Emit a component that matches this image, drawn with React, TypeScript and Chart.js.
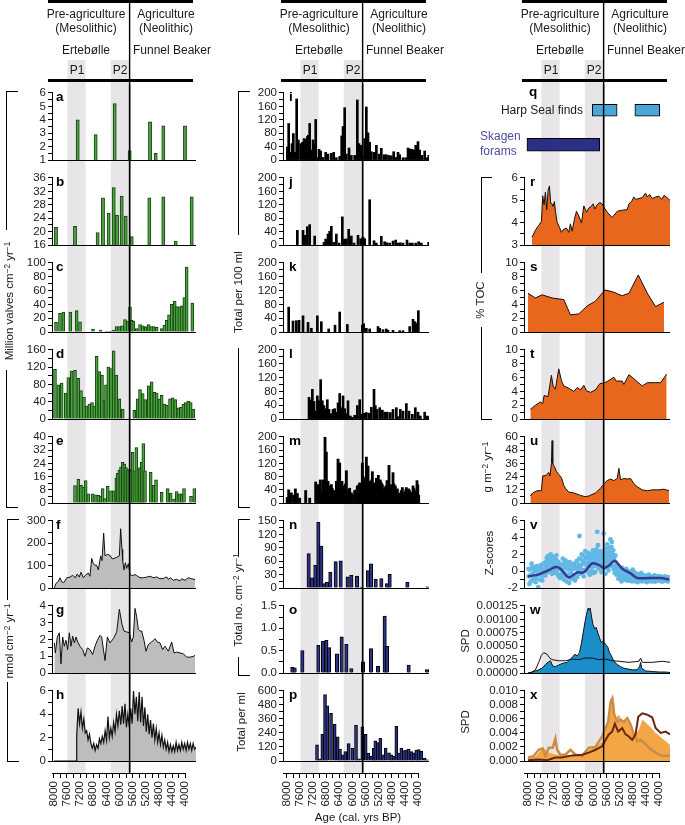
import React, { useEffect, useRef } from 'react';
import { Chart, registerables } from 'chart.js';
Chart.register(...registerables);

const FONT = '"Liberation Sans", Arial, Helvetica, sans-serif';

// ---------------- DATA (ages in cal. yrs BP) ----------------
const BANDS = [[7620, 7110], [6400, 5870]];
const VLINE_AGE = 5870;
const AGE_TICKS = [8000, 7800, 7600, 7400, 7200, 7000, 6800, 6600, 6400, 6200, 6000, 5800, 5600, 5400, 5200, 5000, 4800, 4600, 4400, 4200, 4000];
const AGE_LABELS = ['8000', '7600', '7200', '6800', '6400', '6000', '5600', '5200', '4800', '4400', '4000'];

const A_AGE = [7333, 6826, 6291, 5868, 5295, 5136, 4920, 4310];
const A_VAL = [4.0, 2.9, 5.2, 1.7, 3.85, 1.5, 3.55, 3.55];

const B_AGE = [7944, 7408, 6770, 6620, 6460, 6318, 6225, 6093, 5980, 5811, 5315, 4921, 4572, 4121];
const B_VAL = [21.3, 21.6, 19.7, 30.1, 25.5, 33.1, 24.9, 30.6, 24.6, 18.5, 30.1, 30.4, 17.2, 30.4];

const C_AGE = [7943, 7831, 7737, 7540, 7361, 7267, 6901, 6685, 6516, 6422, 6328, 6234, 6159, 6084, 6000, 5925, 5859, 5812, 5765, 5671, 5577, 5502, 5418, 5333, 5258, 5192, 5108, 4967, 4892, 4826, 4760, 4685, 4601, 4535, 4469, 4403, 4328, 4263, 4103];
const C_VAL = [14, 27, 29, 29, 31, 15, 4, 3, 1, 1, 3, 8, 8, 9, 18, 16, 36, 17, 16, 5, 11, 9, 8, 11, 8, 8, 7, 5, 10, 17, 25, 40, 45, 37, 36, 38, 50, 94, 42];

const D_AGE = [7972, 7878, 7784, 7671, 7596, 7502, 7408, 7314, 7239, 7155, 7080, 7004, 6929, 6864, 6798, 6723, 6648, 6582, 6535, 6469, 6394, 6319, 6244, 6159, 6065, 5737, 5643, 5577, 5502, 5427, 5333, 5249, 5173, 5108, 5033, 4967, 4892, 4826, 4732, 4657, 4582, 4497, 4422, 4356, 4291, 4216, 4150, 4075];
const D_VAL = [115, 79, 83, 60, 96, 111, 113, 94, 66, 51, 30, 35, 38, 30, 145, 110, 101, 44, 79, 120, 117, 158, 102, 47, 23, 20, 47, 68, 59, 45, 77, 86, 62, 60, 47, 55, 35, 32, 47, 49, 45, 26, 27, 35, 38, 41, 38, 23];

const E_AGE = [7408, 7314, 7239, 7173, 7108, 7033, 6911, 6817, 6751, 6685, 6629, 6563, 6488, 6394, 6319, 6244, 6206, 6159, 6112, 6065, 6019, 5972, 5925, 5878, 5840, 5784, 5737, 5680, 5624, 5577, 5530, 5483, 5436, 5277, 5192, 5126, 4967, 4798, 4713, 4619, 4544, 4469, 4394, 4338, 4141, 4047];
const E_VAL = [10.6, 14.3, 10.8, 9.7, 13.6, 5.6, 5.6, 5, 4.7, 4.3, 8.7, 2.8, 10.2, 7.4, 7.4, 15.3, 18, 20, 21.8, 24.7, 23.6, 21.4, 19.9, 20.5, 19.5, 30.7, 19.5, 33.5, 20.5, 21.4, 24.7, 35.9, 19.5, 18.6, 10.8, 14, 6.5, 8.7, 6.1, 2.4, 6.9, 5.6, 5.6, 8.7, 4.1, 8.7];

const F_AGE = [7990, 7943, 7878, 7831, 7784, 7718, 7643, 7549, 7474, 7399, 7343, 7286, 7239, 7173, 7098, 7033, 6986, 6939, 6892, 6845, 6798, 6751, 6685, 6648, 6601, 6563, 6497, 6422, 6357, 6300, 6234, 6159, 6122, 6084, 6065, 6028, 5990, 5953, 5906, 5859, 5793, 5718, 5671, 5577, 5483, 5389, 5295, 5202, 5108, 5014, 4920, 4826, 4779, 4713, 4638, 4544, 4450, 4403, 4310, 4216, 4122, 4028];
const F_VAL = [1, 21, 29, 46, 28, 25, 46, 49, 57, 46, 63, 49, 71, 46, 60, 67, 53, 133, 109, 102, 102, 81, 144, 123, 246, 144, 151, 146, 130, 133, 137, 144, 265, 172, 123, 81, 113, 88, 109, 60, 56, 60, 56, 46, 46, 49, 53, 46, 50, 42, 43, 50, 39, 46, 35, 39, 32, 42, 35, 46, 42, 38];

const G_AGE = [7990, 7962, 7906, 7850, 7803, 7756, 7709, 7662, 7615, 7568, 7521, 7474, 7427, 7380, 7333, 7267, 7192, 7127, 7061, 6986, 6911, 6845, 6779, 6704, 6657, 6563, 6497, 6422, 6328, 6234, 6159, 6084, 6028, 5953, 5878, 5812, 5765, 5718, 5671, 5624, 5577, 5530, 5465, 5408, 5342, 5249, 5155, 5089, 5014, 4939, 4873, 4779, 4685, 4619, 4544, 4450, 4356, 4263, 4169, 4075, 4028];
const G_VAL = [1.8, 1.2, 2.15, 2.4, 0.55, 2.15, 1.6, 1.95, 1.4, 2.4, 1.6, 2.2, 1.8, 2.15, 1.85, 1.6, 1.4, 1, 1.5, 1.4, 1.1, 1.6, 1.95, 2.25, 2.15, 0.75, 2.15, 1.8, 2.05, 2.45, 3.8, 2.9, 2.5, 2.45, 2.4, 1.85, 2.15, 3.85, 3.35, 2.6, 2.5, 2.5, 1.95, 1.3, 1.7, 1.85, 2.05, 1.85, 1.8, 1.4, 1.6, 1.3, 1.85, 1.2, 1.25, 1.2, 1.15, 0.95, 0.95, 1, 1.05];

const H_AGE = [8000, 7372,
  7360, 7320, 7280, 7240, 7200, 7160, 7120, 7080, 7040, 7000,
  6960, 6920, 6880, 6840, 6800, 6760, 6720, 6680, 6640, 6600,
  6560, 6520, 6480, 6440, 6400, 6360, 6320, 6280, 6240, 6200,
  6160, 6120, 6080, 6040, 6000, 5960, 5920, 5880, 5840, 5800,
  5760, 5720, 5680, 5640, 5600, 5560, 5520, 5480, 5440, 5400,
  5360, 5320, 5280, 5240, 5200, 5160, 5120, 5080, 5040, 5000,
  4960, 4920, 4880, 4840, 4800, 4760, 4720, 4680, 4640, 4600,
  4560, 4520, 4480, 4440, 4400, 4360, 4320, 4280, 4240, 4200,
  4160, 4120, 4080, 4040, 4000];
const H_VAL = [0, 0,
  2.2, 4.5, 3.2, 4.2, 2.8, 3.6, 2.4, 2.6, 1.8, 2.3,
  1.5, 1.1, 1.5, 0.9, 1.4, 1.1, 1.9, 1.5, 2.1, 1.6,
  2.6, 1.8, 3.8, 2.0, 2.8, 2.1, 3.3, 2.5, 4.0, 3.0,
  4.3, 3.1, 4.7, 3.2, 4.9, 2.9, 4.0, 3.0, 4.5, 3.2,
  6.0, 4.0, 5.5, 3.4, 5.9, 3.3, 5.5, 3.0, 4.6, 2.5,
  4.0, 2.3, 3.5, 2.0, 3.2, 1.8, 2.8, 1.6, 2.4, 1.4,
  2.2, 1.2, 1.8, 1.0, 1.6, 0.8, 1.4, 0.8, 1.3, 0.8,
  1.6, 0.9, 1.4, 0.9, 1.6, 1.0, 1.5, 0.9, 1.6, 1.0,
  1.5, 0.9, 1.5, 1.0, 1.2];

const I_AGE = [7990, 7953, 7897, 7859, 7822, 7775, 7728, 7681, 7615, 7568, 7521, 7474, 7427, 7399, 7361, 7314, 7267, 7230, 7192, 7145, 7098, 7052, 6986, 6911, 6845, 6751, 6685, 6610, 6516, 6460, 6422, 6375, 6328, 6253, 6188, 6094, 6019, 5972, 5925, 5878, 5812, 5765, 5718, 5671, 5624, 5549, 5483, 5408, 5343, 5267, 5202, 5136, 5061, 4995, 4939, 4873, 4826, 4732, 4657, 4591, 4526, 4469, 4422, 4375, 4310, 4263, 4197, 4122, 4056, 4005];
const I_VAL = [39, 109, 23, 49, 79, 23, 182, 60, 49, 53, 64, 62, 70, 74, 109, 30, 60, 49, 121, 8, 32, 27, 8, 23, 18, 20, 23, 7, 11, 72, 100, 156, 18, 36, 14, 14, 179, 49, 44, 16, 64, 158, 81, 53, 25, 23, 44, 18, 35, 16, 16, 14, 13, 25, 8, 23, 16, 7, 7, 36, 33, 32, 29, 44, 55, 30, 14, 27, 7, 14];

const J_AGE = [7709, 7549, 7493, 7427, 7361, 7221, 6958, 6911, 6845, 6798, 6751, 6685, 6610, 6535, 6441, 6385, 6328, 6263, 6188, 6113, 6000, 5925, 5859, 5812, 5671, 5549, 5483, 5343, 5249, 5183, 5108, 5014, 4939, 4873, 4807, 4732, 4620, 4544, 4469, 4375, 4291, 4216, 4010];
const J_VAL = [44, 44, 29, 55, 61, 27, 8, 18, 33, 41, 56, 8, 33, 6, 84, 18, 18, 47, 27, 6, 29, 19, 24, 19, 135, 13, 6, 26, 10, 7, 6, 12, 15, 6, 7, 6, 15, 6, 6, 6, 10, 6, 8];

const K_AGE = [7953, 7831, 7737, 7662, 7549, 7408, 7314, 7145, 7033, 6826, 6648, 6516, 6300, 5878, 5840, 5765, 5671, 5436, 5389, 5296, 5202, 5155, 5014, 4826, 4732, 4544, 4450, 4394, 4357, 4300];
const K_VAL = [72, 32, 33, 34, 47, 28, 11, 47, 30, 9, 20, 58, 22, 20, 24, 11, 9, 16, 11, 7, 9, 5, 5, 4, 4, 16, 37, 30, 25, 62];

const L_AGE = [7380, 7333, 7286, 7239, 7192, 7145, 7098, 7052, 7005, 6958, 6911, 6864, 6817, 6770, 6704, 6657, 6610, 6563, 6516, 6469, 6422, 6375, 6328, 6282, 6216, 6159, 6094, 6019, 5953, 5897, 5840, 5765, 5690, 5624, 5549, 5512, 5465, 5389, 5314, 5249, 5174, 5089, 5014, 4920, 4873, 4807, 4732, 4638, 4563, 4469, 4385, 4310, 4244, 4122, 4056, 4005];
const L_VAL = [63, 56, 86, 51, 23, 67, 53, 114, 53, 39, 30, 56, 28, 16, 28, 30, 20, 47, 74, 33, 67, 30, 16, 53, 9, 5, 11, 39, 56, 14, 17, 19, 17, 34, 86, 39, 28, 33, 26, 20, 20, 19, 28, 33, 7, 28, 23, 45, 23, 14, 33, 20, 9, 20, 9, 7];

const M_AGE = [7995, 7953, 7878, 7812, 7765, 7709, 7643, 7474, 7361, 7192, 7127, 7061, 6986, 6929, 6892, 6845, 6798, 6751, 6685, 6610, 6563, 6516, 6451, 6394, 6328, 6263, 6188, 6094, 6019, 5953, 5878, 5831, 5765, 5718, 5671, 5596, 5549, 5483, 5427, 5371, 5314, 5249, 5183, 5127, 5080, 5014, 4948, 4892, 4826, 4751, 4685, 4638, 4573, 4516, 4450, 4394, 4338, 4291];
const M_VAL = [17, 40, 31, 24, 43, 29, 15, 38, 15, 64, 56, 70, 70, 200, 154, 66, 47, 56, 38, 66, 133, 121, 66, 52, 98, 43, 31, 38, 52, 61, 121, 75, 139, 112, 66, 95, 61, 75, 84, 70, 56, 47, 68, 114, 56, 92, 52, 43, 29, 47, 33, 47, 43, 33, 52, 38, 68, 24];
// thinner, densely packed bars of panel m (estimated)
const M_DENSE = [
  [7030, 35], [6960, 48], [6910, 60], [6870, 40], [6820, 52], [6775, 30], [6720, 45], [6650, 28], [6590, 55], [6540, 70],
  [6480, 40], [6420, 35], [6360, 58], [6300, 30], [6230, 45], [6150, 25], [6060, 40], [5985, 55], [5915, 35], [5850, 80],
  [5800, 60], [5740, 90], [5690, 48], [5620, 70], [5575, 40], [5515, 55], [5455, 60], [5400, 45], [5340, 62], [5280, 38],
  [5220, 52], [5160, 40], [5100, 48], [5045, 35], [4980, 58], [4920, 40], [4860, 30], [4790, 38], [4720, 25], [4660, 40],
  [4610, 30], [4545, 38], [4480, 28], [4420, 45], [4360, 30], [4310, 55]];

const N_AGE = [7390, 7296, 7202, 7117, 7033, 6948, 6873, 6779, 6629, 6488, 6291, 6188, 6028, 5897, 5718, 5634, 5502, 5343, 5183, 5108, 4610, 4047];
const N_VAL = [77, 23, 51, 147, 94, 10, 13, 36, 59, 61, 25, 29, 27, 2, 39, 54, 20, 21, 10, 31, 13, 3];

const O_AGE = [7850, 7784, 7568, 7117, 6986, 6892, 6817, 6591, 6460, 6328, 6188, 5859, 5634, 5436, 5249, 5183, 4573, 4056];
const O_VAL = [0.13, 0.12, 0.5, 0.62, 0.71, 0.73, 0.57, 0.43, 0.81, 0.64, 0.1, 0.25, 0.55, 0.15, 1.27, 0.6, 0.18, 0.08];

const P_AGE = [7155, 7080, 7005, 6929, 6864, 6760, 6657, 6573, 6507, 6432, 6357, 6263, 6159, 6056, 5972, 5878, 5784, 5709, 5624, 5559, 5512, 5446, 5371, 5296, 5220, 5127, 5061, 4995, 4920, 4845, 4779, 4704, 4638, 4573, 4497, 4432, 4357, 4291, 4216, 4122, 4056];
const P_VAL = [139, 19, 228, 569, 472, 408, 317, 206, 103, 53, 81, 150, 108, 306, 19, 292, 228, 67, 39, 108, 172, 158, 194, 53, 111, 69, 53, 39, 297, 67, 111, 89, 94, 103, 81, 69, 94, 97, 83, 25, 11];

const HARP_SEAL = [[6190, 5490], [4990, 4290]];
const SKAGEN = [8030, 5980];

const R_AGE = [7887, 7793, 7698, 7623, 7586, 7548, 7510, 7473, 7435, 7397, 7360, 7322, 7294, 7256, 7228, 7181, 7115, 7059, 6993, 6917, 6852, 6805, 6757, 6692, 6635, 6569, 6494, 6428, 6353, 6287, 6221, 6165, 6118, 6052, 5976, 5911, 5845, 5769, 5628, 5487, 5346, 5205, 5158, 5083, 5017, 4970, 4875, 4781, 4687, 4640, 4574, 4499, 4405, 4311, 4236, 4170, 4104, 4029, 4000];
const R_VAL = [3.35, 3.66, 3.88, 4.05, 5.2, 4.8, 5.36, 4.58, 5.43, 5.64, 4.87, 4.84, 4.73, 4.94, 4.51, 4.02, 3.8, 3.57, 3.71, 3.76, 3.57, 3.95, 3.62, 4.16, 4.51, 4.3, 3.99, 4.75, 4.47, 4.65, 4.73, 4.84, 4.61, 4.8, 4.9, 4.84, 4.65, 4.47, 4.23, 4.51, 4.56, 4.58, 4.84, 4.94, 5.15, 5.04, 5.08, 5.12, 5.32, 5.15, 5.26, 5.08, 5.15, 5.18, 5.04, 5.22, 5.15, 5.04, 5.0];

const S_AGE = [8000, 7793, 7604, 7322, 6993, 6805, 6569, 6334, 6099, 5835, 5628, 5346, 5158, 4894, 4640, 4405, 4170];
const S_VAL = [5.62, 4.93, 5.39, 4.93, 4.7, 2.49, 2.63, 3.78, 4.47, 6.08, 5.85, 5.25, 5.62, 8.25, 5.62, 3.69, 4.33];

const T_AGE = [7934, 7793, 7651, 7586, 7548, 7435, 7341, 7294, 7228, 7134, 7059, 6993, 6852, 6710, 6616, 6522, 6428, 6353, 6240, 6099, 5976, 5835, 5722, 5581, 5515, 5346, 5299, 5158, 5064, 4923, 4781, 4640, 4405, 4264, 4094];
const T_VAL = [1.4, 2.0, 2.47, 2.23, 3.4, 3.26, 6.33, 4.79, 4.33, 7.26, 5.58, 4.79, 4.47, 4.0, 4.56, 4.23, 4.88, 4.09, 3.86, 4.23, 5.12, 5.26, 5.58, 6.05, 5.49, 5.49, 5.02, 6.42, 6.05, 5.4, 4.79, 5.26, 5.26, 5.26, 6.51];

const U_AGE = [7934, 7868, 7746, 7623, 7586, 7491, 7416, 7379, 7341, 7322, 7303, 7256, 7200, 7134, 7059, 6993, 6946, 6852, 6710, 6522, 6400, 6287, 6099, 5958, 5845, 5769, 5675, 5581, 5487, 5440, 5393, 5299, 5205, 5111, 5017, 4923, 4781, 4640, 4499, 4311, 4170, 4029];
const U_VAL = [6.4, 9.2, 11.2, 11.2, 24.6, 25.1, 27.9, 24.6, 35.7, 56.6, 35.7, 33, 28.7, 25.9, 23.2, 16.2, 13.4, 10, 9.2, 7, 5.9, 6.4, 9.2, 13.4, 18.1, 20.4, 21.8, 20.4, 22.3, 31.5, 21.2, 22.3, 21.8, 22.3, 17.6, 14.8, 12, 11.2, 12, 12, 12.6, 11.2];

const V_PT_AGE = [
  7980, 7950, 7920, 7900, 7870, 7840, 7800, 7770, 7740, 7710,
  7680, 7650, 7620, 7600, 7570, 7540, 7510, 7480, 7460, 7440,
  7420, 7400, 7380, 7360, 7340, 7320, 7300, 7280, 7260, 7240,
  7220, 7200, 7180, 7160, 7140, 7120, 7100, 7080, 7050, 7020,
  6990, 6960, 6930, 6900, 6870, 6840, 6810, 6780, 6750, 6720,
  6690, 6660, 6630, 6600, 6570, 6550, 6530, 6500, 6480, 6450,
  6430, 6400, 6380, 6350, 6330, 6300, 6280, 6260, 6240, 6220,
  6200, 6180, 6160, 6140, 6120, 6100, 6080, 6060, 6050, 6030,
  6010, 5990, 5970, 5950, 5930, 5910, 5890, 5870, 5860, 5840,
  5820, 5800, 5780, 5760, 5740, 5720, 5700, 5680, 5660, 5640,
  5620, 5600, 5580, 5560, 5540, 5520, 5500, 5470, 5440, 5410,
  5380, 5350, 5320, 5290, 5260, 5230, 5200, 5170, 5140, 5110,
  5080, 5050, 5020, 4990, 4960, 4930, 4900, 4870, 4840, 4810,
  4780, 4750, 4720, 4690, 4660, 4630, 4600, 4570, 4540, 4510,
  4480, 4450, 4420, 4390, 4360, 4330, 4300, 4270, 4240, 4210,
  4180, 4150, 4120, 4090, 4060, 4030];
const V_PT_VAL = [
  -0.6, 0.2, -1.2, 0.9, -0.3, -1.0, 0.5, -0.8, 0.1, -1.9,
  -0.4, 0.7, -0.2, -1.1, 0.9, 0.3, -0.5, 1.2, 0.4, 1.8,
  0.8, 1.5, 0.1, 2.0, 1.0, 0.5, 1.6, -0.2, 0.9, 1.3,
  0.2, 1.9, 0.6, -0.4, 1.1, 0.3, -0.8, 0.6, -0.3, 1.5,
  -1.0, 0.4, 1.0, -0.6, 0.2, -1.4, 0.8, -0.2, 0.5, -0.9,
  0.3, -0.5, 1.2, -0.2, 0.8, 4.2, -0.3, 1.4, 0.2, 1.9,
  -0.6, 0.9, 1.6, 0.1, 2.2, 0.7, 1.3, -0.4, 1.8, 0.5,
  2.0, 1.1, -0.2, 1.5, 0.6, 2.3, 0.9, 1.7, 4.7, 3.1,
  0.3, 1.9, 1.2, 2.4, -0.1, 1.6, 0.7, 4.5, 2.1, 1.0,
  -0.3, 2.7, 1.4, 0.4, 2.2, 1.1, 2.8, 3.8, 1.6, 3.5,
  0.6, 2.5, 1.3, -0.2, 1.9, 0.8, 0.2, 0.5, -0.4, 0.1,
  -0.9, 0.4, -0.6, -0.1, -1.0, 0.3, -0.7, -0.2, -1.1, -0.4,
  -0.8, 0.2, -1.0, -0.5, -1.2, -0.3, -0.9, -0.6, -1.1, -0.2,
  -0.8, -1.0, -0.5, -1.2, -0.7, -0.9, -0.4, -1.1, -0.8, -1.0,
  -0.6, -1.2, -0.9, -0.7, -1.1, -0.8, -1.0, -0.6, -1.2, -0.9,
  -0.7, -1.1, -0.8, -1.0, -1.2, -0.8];
// further points of the dense z-score cloud (estimated)
const V_PT_MORE = [
  [7990, 0.3], [7960, -1.5], [7935, -0.5], [7885, 0.4], [7855, -0.9], [7820, 0.0], [7785, -1.3], [7755, 0.6], [7725, -0.4], [7695, 0.2],
  [7665, -1.0], [7635, 0.4], [7585, -0.6], [7555, 0.1], [7525, 1.0], [7490, 0.6], [7470, 1.6], [7450, -0.1], [7430, 1.0], [7410, 0.3],
  [7390, 1.9], [7370, 0.7], [7350, 1.4], [7330, -0.3], [7310, 1.1], [7290, 0.4], [7270, 1.7], [7250, 0.0], [7230, 0.8], [7210, 1.4],
  [7190, -0.2], [7170, 1.0], [7150, 0.5], [7130, -0.6], [7110, 0.8], [7065, 0.2], [7035, -0.7], [7005, 0.9], [6975, -0.2], [6945, 1.3],
  [6915, -1.2], [6885, 0.6], [6855, -0.4], [6825, 1.1], [6795, -0.9], [6765, 0.3], [6735, -0.5], [6705, 0.9], [6675, -1.1], [6645, 0.5],
  [6615, -0.7], [6590, 0.3], [6560, 1.5], [6520, 0.6], [6490, 2.0], [6460, 0.9], [6440, 1.2], [6410, 0.1], [6390, 2.4], [6360, 1.0],
  [6340, 0.5], [6310, 1.7], [6290, -0.2], [6270, 2.1], [6250, 0.9], [6230, 1.4], [6210, 0.1], [6190, 1.6], [6170, 2.5], [6150, 0.8],
  [6130, 1.9], [6110, -0.1], [6090, 1.3], [6070, 2.6], [6040, 0.6], [6020, 1.4], [6000, 2.2], [5980, 0.5], [5960, 1.8], [5940, 0.9],
  [5920, 2.3], [5900, 1.2], [5880, 0.2], [5850, 1.5], [5830, 2.4], [5810, 0.9], [5790, 1.8], [5770, 3.2], [5750, 1.2], [5730, 0.1],
  [5710, 1.9], [5690, 2.3], [5670, 0.7], [5650, 2.9], [5630, 1.4], [5610, 2.0], [5590, 0.3], [5570, 1.6], [5550, 0.6], [5530, 1.1],
  [5510, -0.4], [5490, -0.2], [5455, -0.9], [5425, 0.3], [5395, -0.5], [5365, -1.2], [5335, -0.2], [5305, -0.8], [5275, 0.1], [5245, -0.6],
  [5215, -1.1], [5185, -0.4], [5155, 0.0], [5125, -0.9], [5095, -0.3], [5065, -1.2], [5035, -0.6], [5005, -0.1], [4975, -0.9], [4945, -0.7],
  [4915, -1.3], [4885, -0.4], [4855, -0.9], [4825, -0.6], [4795, -1.2], [4765, -0.5], [4735, -0.8], [4705, -1.0], [4675, -0.6], [4645, -1.3],
  [4615, -0.8], [4585, -0.6], [4555, -1.0], [4525, -1.2], [4495, -0.7], [4465, -0.9], [4435, -0.5], [4405, -1.2], [4375, -0.9], [4345, -0.6],
  [4315, -1.1], [4285, -0.8], [4255, -1.0], [4225, -0.7], [4195, -1.2], [4165, -0.9], [4135, -0.6], [4105, -1.1], [4075, -0.9], [4045, -0.7], [4015, -1.0]];
const V_LINE_AGE = [8000, 7698, 7416, 7228, 7087, 6852, 6616, 6428, 6193, 6005, 5864, 5722, 5553, 5346, 5111, 4923, 4593, 4264, 4029];
const V_LINE_VAL = [-0.62, -0.36, 0.13, 0.5, 0.31, -0.73, -0.13, -0.13, 0.94, 0.76, 0.39, 0.68, 1.24, 0.31, -0.25, -0.8, -0.8, -0.8, -0.99];

const W_AREA_AGE = [8000, 7887, 7793, 7698, 7586, 7510, 7435, 7369, 7303, 7228, 7134, 7040, 6899, 6757, 6682, 6616, 6550, 6494, 6428, 6381, 6334, 6306, 6278, 6249, 6212, 6174, 6118, 6080, 6024, 5986, 5939, 5892, 5845, 5798, 5751, 5704, 5657, 5609, 5553, 5487, 5393, 5299, 5205, 5064, 4923, 4857, 4828, 4800, 4687, 4499, 4311, 4123, 4000];
const W_AREA_VAL = [0, 0.00002, 0.00004, 0.00006, 0.0001, 0.00016, 0.0002, 0.00023, 0.00013, 0.00012, 0.00015, 0.00018, 0.0002, 0.00029, 0.00035, 0.00032, 0.00038, 0.00056, 0.00082, 0.001, 0.00114, 0.00121, 0.00117, 0.00121, 0.00106, 0.00091, 0.00082, 0.00085, 0.00073, 0.00066, 0.00057, 0.00059, 0.00056, 0.00052, 0.00048, 0.00038, 0.00033, 0.00026, 0.0002, 0.00016, 0.00012, 0.00009, 0.00008, 0.00006, 0.00006, 0.00012, 0.0002, 0.00009, 0.00004, 0.00003, 0.00002, 0.00002, 0.00001];
const W_LINE_AGE = [8000, 7906, 7793, 7698, 7623, 7557, 7463, 7388, 7322, 7134, 6946, 6757, 6569, 6381, 6193, 6005, 5816, 5628, 5440, 5158, 4875, 4828, 4781, 4499, 4217, 4000];
const W_LINE_VAL = [0, 0.00001, 0.00006, 0.0002, 0.00033, 0.00038, 0.00035, 0.00028, 0.00025, 0.00023, 0.00023, 0.00026, 0.00025, 0.00028, 0.00028, 0.00025, 0.00026, 0.00023, 0.00022, 0.0002, 0.00022, 0.00028, 0.0002, 0.0002, 0.00022, 0.0002];

const X_AREA_AGE = [8000, 7793, 7651, 7557, 7416, 7228, 6946, 6757, 6475, 6287, 6099, 5911, 5816, 5722, 5647, 5609, 5572, 5534, 5440, 5346, 5252, 5158, 5064, 4970, 4875, 4781, 4687, 4546, 4405, 4217, 4000];
const X_AREA_VAL = [0.0005, 0.0006, 0.0015, 0.0018, 0.0012, 0.0009, 0.0009, 0.0008, 0.0007, 0.0016, 0.0019, 0.0028, 0.0042, 0.0066, 0.008, 0.0094, 0.0084, 0.0061, 0.0066, 0.0056, 0.0059, 0.0054, 0.0042, 0.0038, 0.0045, 0.0059, 0.0055, 0.0048, 0.004, 0.0032, 0.0023];
const X_LIGHT_AGE = [8000, 7840, 7698, 7586, 7510, 7416, 7303, 7228, 7181, 7087, 6946, 6805, 6663, 6475, 6287, 6099, 5911, 5816, 5741, 5675, 5628, 5572, 5487, 5393, 5299, 5205, 5111, 5017, 4923, 4828, 4734, 4593, 4405, 4217, 4000];
const X_LIGHT_VAL = [0.0005, 0.0007, 0.0016, 0.0018, 0.0007, 0.0019, 0.0019, 0.0032, 0.0016, 0.0009, 0.0009, 0.0016, 0.0009, 0.0007, 0.0019, 0.002, 0.0035, 0.0047, 0.0056, 0.0084, 0.0089, 0.0066, 0.0056, 0.0059, 0.0056, 0.0061, 0.0052, 0.0038, 0.0028, 0.003, 0.0026, 0.0019, 0.0012, 0.0007, 0.0008];
const X_DARK_AGE = [8000, 7698, 7463, 7228, 7040, 6757, 6475, 6287, 6099, 5911, 5816, 5722, 5628, 5553, 5459, 5346, 5252, 5158, 5064, 4970, 4894, 4781, 4640, 4499, 4405, 4264, 4123, 4000];
const X_DARK_VAL = [0.0001, 0.0002, 0.0001, 0.0005, 0.0005, 0.0008, 0.0009, 0.0012, 0.0016, 0.0021, 0.003, 0.0038, 0.0042, 0.0053, 0.0042, 0.0047, 0.0038, 0.0035, 0.003, 0.0038, 0.0063, 0.0068, 0.0066, 0.0062, 0.0047, 0.004, 0.0042, 0.0038];

// ---------------- LAYOUT ----------------
const AXIS_W = 50;
const RIGHT_PAD = 6;
const COLS = [
  { left: 2, chartW: 144, xMax: 8056, pl: 54 },
  { left: 233, chartW: 146, xMax: 8113, pl: 287 },
  { left: 474, chartW: 146, xMax: 8113, pl: 528 },
];
const ROW_TOP = [91, 176, 261, 348, 435, 519, 604, 689];
const CANVAS_TOP = [84, 169, 254, 341, 428, 512, 597, 682, 772];
const PLOT_H = 72;
const AXIS_BOTTOM = 773;

const GREEN = '#47a53c';
const GREEN_EDGE = '#183f13';
const NAVY = '#2d3488';
const ORANGE = '#e8671c';
const GREYFILL = '#bdbdbd';
const BAND = '#e7e5e7';

const decorPlugin = {
  id: 'decor',
  beforeDraw(chart: any, _a: any, o: any) {
    if (!o || !o.bands) return;
    const x = chart.scales.x;
    const ctx = chart.ctx;
    ctx.save();
    ctx.fillStyle = BAND;
    BANDS.forEach(([a, b]) => {
      const p1 = x.getPixelForValue(a);
      const p2 = x.getPixelForValue(b);
      ctx.fillRect(Math.min(p1, p2), o.bandTop, Math.abs(p2 - p1), o.bandBottom - o.bandTop);
    });
    ctx.restore();
  },
  afterDatasetsDraw(chart: any, _a: any, o: any) {
    if (!o) return;
    const ctx = chart.ctx;
    const { left, right, bottom } = chart.chartArea;
    ctx.save();
    ctx.strokeStyle = '#000';
    if (o.baseline) {
      ctx.lineWidth = 1;
      ctx.beginPath();
      ctx.moveTo(left, Math.round(bottom) + 0.5);
      ctx.lineTo(right, Math.round(bottom) + 0.5);
      ctx.stroke();
    }
    if (o.vline) {
      const px = chart.scales.x.getPixelForValue(VLINE_AGE);
      ctx.lineWidth = 1.4;
      ctx.beginPath();
      ctx.moveTo(px, 0);
      ctx.lineTo(px, chart.height);
      ctx.stroke();
    }
    ctx.restore();
  },
};
Chart.register(decorPlugin as any);

const pts = (a: number[], v: number[]) => a.map((x, i) => ({ x, y: v[i] }));
const pairPts = (p: number[][]) => p.map(([x, y]) => ({ x, y }));

const bars = (data: any[], fill: string, edge: string, thick: number, bw = 1) => ({
  type: 'bar', data, backgroundColor: fill, borderColor: edge, borderWidth: bw,
  barThickness: thick, grouped: false, borderSkipped: 'start',
});
const area = (a: number[], v: number[], fill: string, line: string, lw: number, fillTo: any = 'origin') => ({
  type: 'line', data: pts(a, v), backgroundColor: fill, borderColor: line, borderWidth: lw,
  fill: fillTo, pointRadius: 0, tension: 0,
});
const line = (a: number[], v: number[], color: string, lw: number) => ({
  type: 'line', data: pts(a, v), borderColor: color, borderWidth: lw, fill: false,
  pointRadius: 0, tension: 0, backgroundColor: 'transparent',
});

type YSpec = { min: number; max: number; minor: number; major: number; dec: number };

function xScale(col: number, display = false) {
  return { type: 'linear', min: 4000, max: COLS[col].xMax, reverse: true, display, offset: false };
}

function panelConfig(col: number, row: number, type: string, datasets: any[], y: YSpec) {
  const h = CANVAS_TOP[row + 1] - CANVAS_TOP[row];
  const n = Math.round((y.max - y.min) / y.minor);
  const tickVals: number[] = [];
  for (let i = 0; i <= n; i++) tickVals.push(+(y.min + i * y.minor).toFixed(10));
  const isMajor = (v: number) => Math.abs(v / y.major - Math.round(v / y.major)) < 1e-6;
  return {
    type,
    data: { datasets },
    options: {
      animation: false, responsive: false, events: [],
      layout: { autoPadding: false, padding: { top: ROW_TOP[row] - CANVAS_TOP[row], bottom: h - (ROW_TOP[row] - CANVAS_TOP[row]) - PLOT_H, left: 0, right: RIGHT_PAD } },
      plugins: { legend: { display: false }, tooltip: { enabled: false }, decor: { vline: true, baseline: true } },
      scales: {
        x: xScale(col),
        y: {
          type: 'linear', min: y.min, max: y.max,
          afterFit: (s: any) => { s.width = AXIS_W; },
          afterBuildTicks: (s: any) => { s.ticks = tickVals.map((v) => ({ value: v })); },
          ticks: {
            autoSkip: false, padding: 2, color: '#222', font: { family: FONT, size: 11.5 },
            callback: (v: any) => (isMajor(+v) ? (+v).toFixed(y.dec) : ''),
          },
          grid: { drawOnChartArea: false, drawTicks: true, tickLength: 4, color: '#000', lineWidth: 1 },
          border: { display: true, color: '#000', width: 1 },
        },
      },
    },
  };
}

function bgConfig(col: number) {
  return {
    type: 'line',
    data: { datasets: [] },
    options: {
      animation: false, responsive: false, events: [],
      layout: { autoPadding: false, padding: { top: 0, bottom: 0, left: AXIS_W, right: RIGHT_PAD } },
      plugins: { legend: { display: false }, tooltip: { enabled: false }, decor: { bands: true, bandTop: 60, bandBottom: AXIS_BOTTOM, vline: true } },
      scales: { x: xScale(col), y: { display: false, min: 0, max: 1 } },
    },
  };
}

function axisConfig(col: number) {
  return {
    type: 'line',
    data: { datasets: [] },
    options: {
      animation: false, responsive: false, events: [],
      layout: { autoPadding: false, padding: { top: 0, bottom: 0, left: AXIS_W, right: RIGHT_PAD } },
      plugins: { legend: { display: false }, tooltip: { enabled: false } },
      scales: {
        x: {
          ...xScale(col, true), position: 'bottom',
          afterFit: (s: any) => { s.height = 52; },
          afterBuildTicks: (s: any) => { s.ticks = AGE_TICKS.map((v) => ({ value: v })); },
          ticks: {
            autoSkip: false, minRotation: 90, maxRotation: 90, padding: 3, color: '#222',
            font: { family: FONT, size: 11.5 },
            callback: (v: any) => (AGE_LABELS.includes(String(v)) ? String(v) : ''),
          },
          grid: { drawOnChartArea: false, drawTicks: true, tickLength: 5, color: '#000' },
          border: { display: true, color: '#000', width: 1 },
        },
        y: { display: false, min: 0, max: 1 },
      },
    },
  };
}

function qConfig() {
  const col = 2;
  return {
    type: 'bar',
    data: {
      labels: ['Harp Seal finds', 'Skagen forams'],
      datasets: [
        { data: [HARP_SEAL[0], null], backgroundColor: '#4aa5d9', borderColor: '#000', borderWidth: 1, borderSkipped: false, barThickness: 12, grouped: false },
        { data: [HARP_SEAL[1], null], backgroundColor: '#4aa5d9', borderColor: '#000', borderWidth: 1, borderSkipped: false, barThickness: 12, grouped: false },
        { data: [null, SKAGEN], backgroundColor: '#2c2f86', borderColor: '#000', borderWidth: 1, borderSkipped: false, barThickness: 13, grouped: false },
      ],
    },
    options: {
      indexAxis: 'y', animation: false, responsive: false, events: [],
      layout: { autoPadding: false, padding: { top: 9, bottom: 7, left: AXIS_W, right: RIGHT_PAD } },
      plugins: { legend: { display: false }, tooltip: { enabled: false }, decor: { vline: true } },
      scales: { x: xScale(col), y: { type: 'category', display: false, offset: true } },
    },
  };
}

// ---------------- PANELS ----------------
type PanelDef = { col: number; row: number; make: () => any };

const PANELS: PanelDef[] = [
  { col: 0, row: 0, make: () => panelConfig(0, 0, 'bar', [bars(pts(A_AGE, A_VAL), GREEN, GREEN_EDGE, 3.2)], { min: 1, max: 6, minor: 0.5, major: 1, dec: 0 }) },
  { col: 0, row: 1, make: () => panelConfig(0, 1, 'bar', [bars(pts(B_AGE, B_VAL), GREEN, GREEN_EDGE, 3.2)], { min: 16, max: 36, minor: 2, major: 4, dec: 0 }) },
  { col: 0, row: 2, make: () => panelConfig(0, 2, 'bar', [bars(pts(C_AGE, C_VAL), GREEN, GREEN_EDGE, 3)], { min: 0, max: 100, minor: 10, major: 20, dec: 0 }) },
  { col: 0, row: 3, make: () => panelConfig(0, 3, 'bar', [bars(pts(D_AGE, D_VAL), GREEN, GREEN_EDGE, 3)], { min: 0, max: 160, minor: 20, major: 40, dec: 0 }) },
  { col: 0, row: 4, make: () => panelConfig(0, 4, 'bar', [bars(pts(E_AGE, E_VAL), GREEN, GREEN_EDGE, 3)], { min: 0, max: 40, minor: 4, major: 8, dec: 0 }) },
  { col: 0, row: 5, make: () => panelConfig(0, 5, 'line', [area(F_AGE, F_VAL, GREYFILL, '#111', 1)], { min: 0, max: 300, minor: 50, major: 100, dec: 0 }) },
  { col: 0, row: 6, make: () => panelConfig(0, 6, 'line', [area(G_AGE, G_VAL, GREYFILL, '#111', 1)], { min: 0, max: 4, minor: 0.5, major: 1, dec: 0 }) },
  { col: 0, row: 7, make: () => panelConfig(0, 7, 'line', [area(H_AGE, H_VAL, GREYFILL, '#111', 1.2)], { min: 0, max: 6, minor: 1, major: 2, dec: 0 }) },

  { col: 1, row: 0, make: () => panelConfig(1, 0, 'bar', [bars(pts(I_AGE, I_VAL), '#000', '#000', 2, 0)], { min: 0, max: 200, minor: 20, major: 40, dec: 0 }) },
  { col: 1, row: 1, make: () => panelConfig(1, 1, 'bar', [bars(pts(J_AGE, J_VAL), '#000', '#000', 2, 0)], { min: 0, max: 200, minor: 20, major: 40, dec: 0 }) },
  { col: 1, row: 2, make: () => panelConfig(1, 2, 'bar', [bars(pts(K_AGE, K_VAL), '#000', '#000', 2, 0)], { min: 0, max: 200, minor: 20, major: 40, dec: 0 }) },
  { col: 1, row: 3, make: () => panelConfig(1, 3, 'bar', [bars(pts(L_AGE, L_VAL), '#000', '#000', 2, 0)], { min: 0, max: 200, minor: 20, major: 40, dec: 0 }) },
  {
    col: 1, row: 4, make: () => panelConfig(1, 4, 'bar', [
      bars(pts(M_AGE, M_VAL), '#000', '#000', 2.2, 0),
      bars(pairPts(M_DENSE), '#000', '#000', 1.8, 0),
    ], { min: 0, max: 200, minor: 20, major: 40, dec: 0 }),
  },
  { col: 1, row: 5, make: () => panelConfig(1, 5, 'bar', [bars(pts(N_AGE, N_VAL), NAVY, '#000', 3.4)], { min: 0, max: 150, minor: 15, major: 30, dec: 0 }) },
  { col: 1, row: 6, make: () => panelConfig(1, 6, 'bar', [bars(pts(O_AGE, O_VAL), NAVY, '#000', 3.4)], { min: 0, max: 1.5, minor: 0.25, major: 0.5, dec: 1 }) },
  { col: 1, row: 7, make: () => panelConfig(1, 7, 'bar', [bars(pts(P_AGE, P_VAL), NAVY, '#000', 3)], { min: 0, max: 600, minor: 60, major: 120, dec: 0 }) },

  { col: 2, row: 1, make: () => panelConfig(2, 1, 'line', [area(R_AGE, R_VAL, ORANGE, '#111', 1, 'start')], { min: 3, max: 6, minor: 0.5, major: 1, dec: 0 }) },
  { col: 2, row: 2, make: () => panelConfig(2, 2, 'line', [area(S_AGE, S_VAL, ORANGE, '#111', 1)], { min: 0, max: 10, minor: 1, major: 2, dec: 0 }) },
  { col: 2, row: 3, make: () => panelConfig(2, 3, 'line', [area(T_AGE, T_VAL, ORANGE, '#111', 1)], { min: 0, max: 10, minor: 1, major: 2, dec: 0 }) },
  { col: 2, row: 4, make: () => panelConfig(2, 4, 'line', [area(U_AGE, U_VAL, ORANGE, '#111', 1)], { min: 0, max: 60, minor: 6, major: 12, dec: 0 }) },
  {
    col: 2, row: 5, make: () => panelConfig(2, 5, 'scatter', [
      { type: 'scatter', data: pts(V_LINE_AGE, V_LINE_VAL), showLine: true, borderColor: '#3b3891', borderWidth: 2.5, pointRadius: 0, tension: 0.3 },
      { type: 'scatter', data: pts(V_PT_AGE, V_PT_VAL), backgroundColor: '#62b8e4', borderWidth: 0, pointRadius: 2.4 },
      { type: 'scatter', data: pairPts(V_PT_MORE), backgroundColor: '#62b8e4', borderWidth: 0, pointRadius: 2.4 },
    ], { min: -2, max: 6, minor: 1, major: 2, dec: 0 }),
  },
  {
    col: 2, row: 6, make: () => panelConfig(2, 6, 'line', [
      line(W_LINE_AGE, W_LINE_VAL, '#111', 1),
      area(W_AREA_AGE, W_AREA_VAL, '#1b8ec9', '#111', 1),
    ], { min: 0, max: 0.00125, minor: 0.000125, major: 0.00025, dec: 5 }),
  },
  {
    col: 2, row: 7, make: () => panelConfig(2, 7, 'line', [
      line(X_DARK_AGE, X_DARK_VAL, '#6b2510', 2),
      line(X_LIGHT_AGE, X_LIGHT_VAL, '#c98e46', 2.5),
      area(X_AREA_AGE, X_AREA_VAL, '#f4a646', 'transparent', 0),
    ], { min: 0, max: 0.01, minor: 0.001, major: 0.002, dec: 3 }),
  },
];

const LETTERS = [
  ['a', 'b', 'c', 'd', 'e', 'f', 'g', 'h'],
  ['i', 'j', 'k', 'l', 'm', 'n', 'o', 'p'],
  ['', 'r', 's', 't', 'u', 'v', 'w', 'x'],
];

// ---------------- COMPONENTS ----------------
function ChartBox({ left, top, width, height, make }: { left: number; top: number; width: number; height: number; make: () => any }) {
  const ref = useRef<HTMLCanvasElement>(null);
  useEffect(() => {
    const c = new Chart(ref.current as HTMLCanvasElement, make());
    return () => c.destroy();
  }, []);
  return <canvas ref={ref} width={width} height={height} style={{ position: 'absolute', left, top, width, height }} />;
}

function Txt({ x, y, children, size = 12, color = '#1a1a1a', bold = false, rot = false, align = 'center' }: any) {
  const tx = align === 'center' ? '-50%' : align === 'right' ? '-100%' : '0';
  return (
    <div style={{
      position: 'absolute', left: x, top: y, whiteSpace: 'nowrap', fontFamily: FONT, fontSize: size,
      color, fontWeight: bold ? 'bold' : 'normal', lineHeight: 1,
      transform: `translate(${tx},-50%)${rot ? ' rotate(-90deg)' : ''}`,
    }}>{children}</div>
  );
}

const Sup = ({ children }: any) => <sup style={{ fontSize: '0.72em', lineHeight: 0, verticalAlign: '0.45em' }}>{children}</sup>;

function Ln({ x, y, w, h }: { x: number; y: number; w: number; h: number }) {
  return <div style={{ position: 'absolute', left: x, top: y, width: w, height: h, background: '#000' }} />;
}

function Bracket({ x, top, bottom, gapTop, gapBottom, tick = 12 }: any) {
  return (
    <>
      <Ln x={x} y={top} w={tick} h={1} />
      <Ln x={x} y={top} w={1} h={gapTop - top} />
      <Ln x={x} y={gapBottom} w={1} h={bottom - gapBottom} />
      <Ln x={x} y={bottom} w={tick} h={1} />
    </>
  );
}

export default function App() {
  const canvasW = (c: number) => AXIS_W + COLS[c].chartW + RIGHT_PAD;
  return (
    <div style={{ position: 'absolute', left: 0, top: 0, width: 685, height: 825, background: '#fff', overflow: 'hidden', fontFamily: FONT }}>
      {COLS.map((c, ci) => (
        <ChartBox key={'bg' + ci} left={c.left} top={0} width={canvasW(ci)} height={AXIS_BOTTOM} make={() => bgConfig(ci)} />
      ))}
      {PANELS.map((p) => (
        <ChartBox key={'p' + p.col + p.row} left={COLS[p.col].left} top={CANVAS_TOP[p.row]} width={canvasW(p.col)}
          height={CANVAS_TOP[p.row + 1] - CANVAS_TOP[p.row]} make={p.make} />
      ))}
      <ChartBox left={COLS[2].left} top={CANVAS_TOP[0]} width={canvasW(2)} height={CANVAS_TOP[1] - CANVAS_TOP[0]} make={qConfig} />
      {COLS.map((c, ci) => (
        <ChartBox key={'ax' + ci} left={c.left} top={AXIS_BOTTOM - 1} width={canvasW(ci)} height={825 - AXIS_BOTTOM + 1} make={() => axisConfig(ci)} />
      ))}

      {/* header */}
      {COLS.map((c, ci) => (
        <React.Fragment key={'h' + ci}>
          <Ln x={c.pl - 6} y={0} w={145} h={3} />
          <Ln x={c.pl - 6} y={79} w={145} h={3} />
          <Txt x={c.pl + 32} y={14}>Pre-agriculture</Txt>
          <Txt x={c.pl + 32} y={28}>(Mesolithic)</Txt>
          <Txt x={c.pl + 112} y={14}>Agriculture</Txt>
          <Txt x={c.pl + 112} y={28}>(Neolithic)</Txt>
          <Txt x={c.pl + 32} y={50}>Ertebølle</Txt>
          <Txt x={c.pl + 118} y={50}>Funnel Beaker</Txt>
          <Txt x={c.pl + 23} y={70}>P1</Txt>
          <Txt x={c.pl + 66} y={70}>P2</Txt>
        </React.Fragment>
      ))}

      {/* panel letters */}
      {LETTERS.map((col, ci) => col.map((l, ri) => l ? (
        <div key={l} style={{ position: 'absolute', left: COLS[ci].pl + 2, top: ROW_TOP[ri] - 1, fontFamily: FONT, fontSize: 13.5, fontWeight: 'bold', lineHeight: 1, color: '#000' }}>{l}</div>
      ) : null))}
      <div style={{ position: 'absolute', left: 529, top: 85, fontFamily: FONT, fontSize: 13.5, fontWeight: 'bold', lineHeight: 1, color: '#000' }}>q</div>

      {/* q labels */}
      <Txt x={583} y={110} align="right">Harp Seal finds</Txt>
      <Txt x={480} y={136} align="left" color="#4b4c9f">Skagen</Txt>
      <Txt x={480} y={151} align="left" color="#4b4c9f">forams</Txt>

      {/* y-axis titles and brackets */}
      <Bracket x={6} top={91} bottom={507} gapTop={230} gapBottom={370} />
      <Txt x={10} y={301} size={11.5} rot>Million valves cm<Sup>−2</Sup> yr<Sup>−1</Sup></Txt>
      <Bracket x={7} top={519} bottom={761} gapTop={600} gapBottom={682} />
      <Txt x={10} y={641} size={11.5} rot>nmol cm<Sup>−2</Sup> yr<Sup>−1</Sup></Txt>

      <Bracket x={238} top={91} bottom={507} gapTop={235} gapBottom={348} />
      <Txt x={239} y={292} size={11.5} rot>Total per 100 ml</Txt>
      <Bracket x={238} top={519} bottom={675} gapTop={557} gapBottom={657} />
      <Txt x={239} y={600} size={11.5} rot>Total no. cm<Sup>−2</Sup> yr<Sup>−1</Sup></Txt>
      <Txt x={242} y={722} size={11.5} rot>Total per ml</Txt>

      <Bracket x={481} top={177} bottom={419} gapTop={273} gapBottom={327} tick={11} />
      <Txt x={481} y={300} size={11.5} rot>% TOC</Txt>
      <Txt x={488} y={467} size={11.5} rot>g m<Sup>−2</Sup> yr<Sup>−1</Sup></Txt>
      <Txt x={490} y={553} size={11.5} rot>Z-scores</Txt>
      <Txt x={466} y={641} size={11.5} rot>SPD</Txt>
      <Txt x={466} y={722} size={11.5} rot>SPD</Txt>

      <Txt x={358} y={818} size={11.5}>Age (cal. yrs BP)</Txt>
    </div>
  );
}
